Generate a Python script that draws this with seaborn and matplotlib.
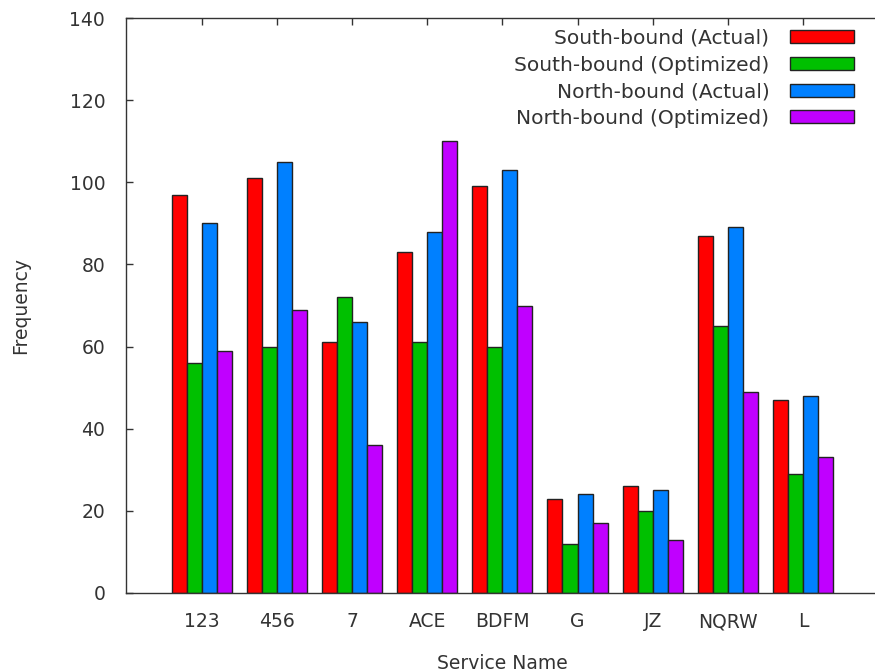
import pandas as pd
import seaborn as sns
import matplotlib.pyplot as plt

services = ["123", "456", "7", "ACE", "BDFM", "G", "JZ", "NQRW", "L"]
series_names = ["South-bound (Actual)", "South-bound (Optimized)",
                "North-bound (Actual)", "North-bound (Optimized)"]
south_actual = [97, 101, 61, 83, 99, 23, 26, 87, 47]
south_optimized = [56, 60, 72, 61, 60, 12, 20, 65, 29]
north_actual = [90, 105, 66, 88, 103, 24, 25, 89, 48]
north_optimized = [59, 69, 36, 110, 70, 17, 13, 49, 33]
colors = ["#ff0000", "#00c000", "#0080ff", "#c000ff"]

rows = []
for name, vals in zip(series_names, [south_actual, south_optimized, north_actual, north_optimized]):
    for s, v in zip(services, vals):
        rows.append({"Service Name": s, "Frequency": v, "series": name})
df = pd.DataFrame(rows)

sns.set_style("white")
plt.rcParams["font.family"] = ["DejaVu Sans"]
text_color = "#333333"

fig = plt.figure(figsize=(8.75, 6.71), dpi=100)
ax = fig.add_axes([126 / 875, 78 / 671, 752 / 875, 575 / 671])

sns.barplot(data=df, x="Service Name", y="Frequency", hue="series",
            hue_order=series_names, order=services, palette=colors,
            saturation=1, edgecolor="#222222", linewidth=1, width=0.8, ax=ax)

ax.set_xlim(-1.01, 9.0)
ax.set_ylim(0, 140)
ax.set_yticks(range(0, 141, 20))
ax.tick_params(axis="both", direction="in", length=5, width=1,
               colors="#333333", labelcolor=text_color, labelsize=13.5, pad=15)
ax.tick_params(axis="x", top=True, bottom=True, pad=14)
ax.tick_params(axis="y", left=True, right=False)
for sp in ax.spines.values():
    sp.set_color("#333333")
    sp.set_linewidth(1)
ax.spines["right"].set_visible(False)

ax.set_xlabel("Service Name", fontsize=13.5, color=text_color, labelpad=16)
ax.set_ylabel("Frequency", fontsize=13.5, color=text_color, labelpad=28)

handles, labels = ax.get_legend_handles_labels()
ax.legend(handles, labels, loc="upper right", bbox_to_anchor=(0.968, 0.981),
          frameon=False, markerfirst=False, fontsize=14.5,
          handlelength=3.15, handleheight=0.6, handletextpad=1.05,
          labelspacing=0.38, labelcolor=text_color,
          borderaxespad=0, borderpad=0)

plt.savefig("out.png", dpi=100)
